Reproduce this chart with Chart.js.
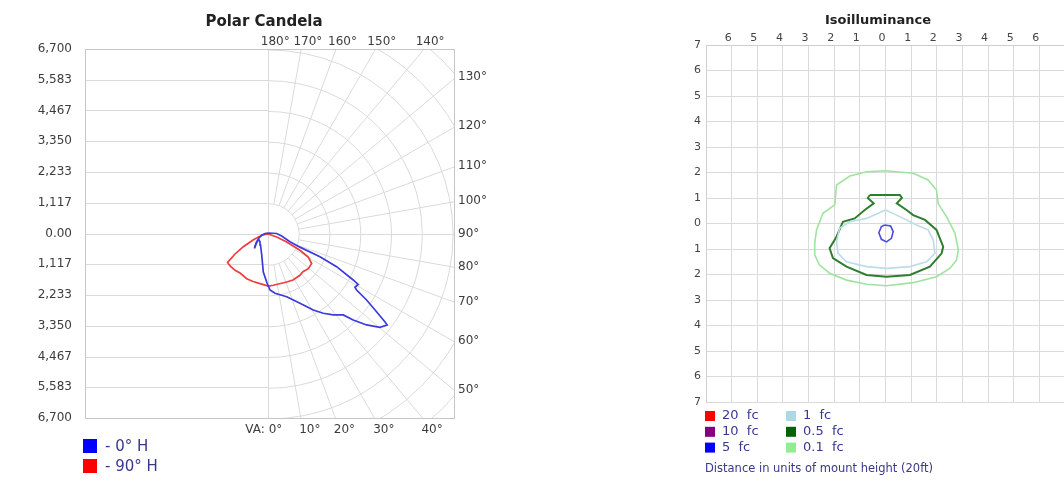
<!DOCTYPE html>
<html>
<head>
<meta charset="utf-8">
<title>Polar Candela / Isoilluminance</title>
<script src="https://cdn.jsdelivr.net/npm/chart.js@4.4.1/dist/chart.umd.min.js"></script>
<style>
  html, body { margin: 0; padding: 0; background: #fff; overflow: hidden; width: 1064px; height: 490px; }
  #polarBox { position: absolute; left: 0; top: 0; width: 528px; height: 490px; }
  #isoBox { position: absolute; left: 650px; top: 0; width: 456px; height: 490px; }
</style>
</head>
<body>
<div id="polarBox"><canvas id="polarChart"></canvas></div>
<div id="isoBox"><canvas id="isoChart"></canvas></div>
<script>
Chart.defaults.font.family = "'DejaVu Sans', sans-serif";
Chart.defaults.animation = false;

// ---- Polar candela data (x/y in candela, centre = lamp) ----
const candelaTicks = [-6700, -5583, -4467, -3350, -2233, -1117, 0, 1117, 2233, 3350, 4467, 5583, 6700];
const candelaTickLabels = ['6,700', '5,583', '4,467', '3,350', '2,233', '1,117', '0.00',
                           '1,117', '2,233', '3,350', '4,467', '5,583', '6,700'];
const angleValues = [180, 170, 160, 150, 140, 130, 120, 110, 100, 90, 80, 70, 60, 50, 40, 30, 20, 10, 0];
const angleLabels = ['180°', '170°', '160°', '150°', '140°', '130°', '120°', '110°', '100°', '90°',
                     '80°', '70°', '60°', '50°', '40°', '30°', '20°', '10°', 'VA: 0°'];
const seriesNames = ['- 0° H', '- 90° H'];
const seriesColors = ['#3a3ade', '#ef3c3c'];
const seriesKeyColors = ['#0000ff', '#ff0000'];

const curve0H = [[0, 18], [307, 0], [489, -91], [792, -298], [1157, -495], [1887, -842], [2497, -1205],
  [3103, -1688], [3285, -1851], [3165, -1953], [3227, -2051], [3592, -2414], [3957, -2839],
  [4260, -3202], [4344, -3321], [4077, -3405], [3592, -3321], [3103, -3140], [2738, -2958],
  [2373, -2958], [2008, -2897], [1643, -2777], [1157, -2534], [672, -2294], [245, -2171],
  [62, -2051], [-47, -1797], [-183, -1398], [-241, -780], [-285, -417], [-303, -309],
  [-358, -200], [-431, -309], [-485, -454], [-504, -545], [-431, -345], [-340, -163],
  [-230, -54], [-120, 0]];
const curve90H = [[0, -18], [-241, -65], [-558, -236], [-913, -479], [-1215, -744], [-1490, -1050],
  [-1398, -1180], [-1215, -1336], [-1033, -1434], [-788, -1641], [-558, -1742], [-303, -1822],
  [0, -1910], [183, -1880], [672, -1761], [902, -1688], [1157, -1517], [1267, -1387],
  [1460, -1278], [1584, -1089], [1460, -853], [1157, -610], [672, -309], [307, -127]];

// ---- Isoilluminance data (units of mount height) ----
const isoXLabels = ['', '6', '5', '4', '3', '2', '1', '0', '1', '2', '3', '4', '5', '6', ''];
const isoYLabels = ['7', '6', '5', '4', '3', '2', '1', '0', '1', '2', '3', '4', '5', '6', '7'];
const isoLevels = ['20  fc', '10  fc', '5  fc', '1  fc', '0.5  fc', '0.1  fc'];
const isoColors = ['#ff0000', '#800080', '#0000ff', '#add8e6', '#006400', '#90ee90'];
const isoLineColors = ['#ff0000', '#800080', '#4a4ae0', '#bcdcea', '#2f7d2f', '#9fe39f'];

const iso5fc = [[-0.03, -0.06], [0.20, -0.10], [0.30, -0.32], [0.23, -0.58], [0.04, -0.72],
  [-0.16, -0.62], [-0.26, -0.36], [-0.16, -0.12]];
const iso1fc = [[0, 0.53], [0.56, 0.27], [1.21, -0.06], [1.66, -0.25], [1.86, -0.65], [1.93, -1.17],
  [1.60, -1.50], [0.95, -1.69], [0.04, -1.76], [-0.74, -1.69], [-1.52, -1.50], [-1.85, -1.17],
  [-1.91, -0.71], [-1.79, -0.19], [-1.39, 0.07], [-0.74, 0.20]];
const iso05fc = [[-0.61, 1.12], [0.56, 1.12], [0.64, 1.0], [0.44, 0.79], [0.82, 0.53], [1.08, 0.33],
  [1.54, 0.14], [1.99, -0.25], [2.25, -0.91], [2.19, -1.17], [1.73, -1.69], [0.95, -2.02],
  [0.04, -2.09], [-0.74, -2.02], [-1.52, -1.69], [-2.05, -1.36], [-2.18, -0.97], [-1.91, -0.52],
  [-1.66, 0.07], [-1.20, 0.20], [-0.81, 0.53], [-0.46, 0.79], [-0.69, 1.0]];
const iso01fc = [[0, 2.07], [1.08, 1.97], [1.66, 1.71], [1.99, 1.31], [2.05, 0.79], [2.38, 0.27],
  [2.71, -0.38], [2.84, -1.04], [2.77, -1.43], [2.51, -1.76], [1.99, -2.09], [1.08, -2.32],
  [0.04, -2.44], [-0.74, -2.38], [-1.52, -2.22], [-2.18, -1.95], [-2.57, -1.63], [-2.76, -1.24],
  [-2.76, -0.78], [-2.69, -0.25], [-2.44, 0.40], [-1.98, 0.73], [-1.91, 1.51], [-1.39, 1.86],
  [-0.74, 2.03]];

const gridColor = '#dadada';
const borderColor = '#c6c6c6';
const keyTextColor = '#38388c';

// closed outline -> scatter points
const toPts = arr => arr.concat([arr[0]]).map(p => ({ x: p[0], y: p[1] }));

// polar grid: horizontal lines on the left, half rings + radial lines on the right
const polarGrid = {
  id: 'polarGrid',
  beforeDatasetsDraw(chart) {
    const { ctx, chartArea: a, scales: { x, y } } = chart;
    const cx = Math.round(x.getPixelForValue(0)) + 0.5;
    const cy = Math.round(y.getPixelForValue(0)) + 0.5;
    const step = y.getPixelForValue(0) - y.getPixelForValue(candelaTicks[7]);
    ctx.save();
    ctx.beginPath();
    ctx.rect(a.left, a.top, a.right - a.left, a.bottom - a.top);
    ctx.clip();
    ctx.strokeStyle = gridColor;
    ctx.lineWidth = 1;
    ctx.beginPath();
    candelaTicks.forEach(v => {
      const py = Math.round(y.getPixelForValue(v)) + 0.5;
      ctx.moveTo(a.left, py);
      ctx.lineTo(cx, py);
    });
    ctx.moveTo(cx, a.top);
    ctx.lineTo(cx, a.bottom);
    ctx.stroke();
    for (let n = 1; n <= 10; n++) {
      ctx.beginPath();
      ctx.arc(cx, cy, n * step, -Math.PI / 2, Math.PI / 2);
      ctx.stroke();
    }
    ctx.beginPath();
    for (let deg = 10; deg < 180; deg += 10) {
      const t = deg * Math.PI / 180;
      ctx.moveTo(cx + step * Math.sin(t), cy + step * Math.cos(t));
      ctx.lineTo(cx + 600 * Math.sin(t), cy + 600 * Math.cos(t));
    }
    ctx.stroke();
    ctx.restore();
    ctx.save();
    ctx.strokeStyle = borderColor;
    ctx.strokeRect(Math.round(a.left) + 0.5, Math.round(a.top) + 0.5,
      Math.round(a.right - a.left) - 1, Math.round(a.bottom - a.top));
    ctx.restore();
  }
};

// angle labels where each radial line meets the frame, plus the series key
const polarText = {
  id: 'polarText',
  afterDraw(chart) {
    const { ctx, chartArea: a, scales: { x, y } } = chart;
    const cx = x.getPixelForValue(0), cy = y.getPixelForValue(0);
    ctx.save();
    ctx.font = "12px 'DejaVu Sans'";
    ctx.fillStyle = '#3c3c3c';
    ctx.textBaseline = 'middle';
    angleValues.forEach((deg, i) => {
      const t = deg * Math.PI / 180;
      const dx = Math.sin(t), dy = Math.cos(t);
      const hits = [];
      if (dy < -1e-6) hits.push((a.top - cy) / dy);
      if (dy > 1e-6) hits.push((a.bottom - cy) / dy);
      if (dx > 1e-6) hits.push((a.right - cx) / dx);
      const r = Math.min(...hits);
      const px = cx + r * dx, py = cy + r * dy;
      if (py <= a.top + 0.5) {
        ctx.textAlign = 'center';
        ctx.fillText(angleLabels[i], px + 7, a.top - 7);
      } else if (py >= a.bottom - 0.5) {
        if (deg === 0) {
          ctx.textAlign = 'right';
          ctx.fillText(angleLabels[i], px + 14, a.bottom + 12);
        } else {
          ctx.textAlign = 'center';
          ctx.fillText(angleLabels[i], px + 9, a.bottom + 12);
        }
      } else {
        ctx.textAlign = 'left';
        ctx.fillText(angleLabels[i], a.right + 3, py);
      }
    });
    ctx.font = "15px 'DejaVu Sans'";
    ctx.textAlign = 'left';
    seriesNames.forEach((name, i) => {
      const top = a.bottom + 21 + i * 20;
      ctx.fillStyle = seriesKeyColors[i];
      ctx.fillRect(a.left - 2, top, 14, 14);
      ctx.fillStyle = keyTextColor;
      ctx.fillText(name, a.left + 20, top + 8);
    });
    ctx.restore();
  }
};

new Chart(document.getElementById('polarChart'), {
  type: 'scatter',
  data: {
    datasets: [
      { label: seriesNames[0], data: toPts(curve0H), borderColor: seriesColors[0], borderWidth: 1.7,
        showLine: true, pointRadius: 0, tension: 0 },
      { label: seriesNames[1], data: toPts(curve90H), borderColor: seriesColors[1], borderWidth: 1.7,
        showLine: true, pointRadius: 0, tension: 0 }
    ]
  },
  options: {
    responsive: true,
    maintainAspectRatio: false,
    events: [],
    layout: { padding: { left: 0, right: 0, top: 0, bottom: 72 } },
    plugins: {
      legend: { display: false },
      tooltip: { enabled: false },
      title: {
        display: true, text: 'Polar Candela', color: '#222',
        font: { size: 15, weight: 'bold' }, padding: { top: 13, bottom: 18 }
      }
    },
    scales: {
      x: { type: 'linear', display: false, min: -6700, max: 6824 },
      y: {
        type: 'linear', min: -6700, max: 6700,
        grid: { display: false }, border: { display: false },
        afterBuildTicks: s => { s.ticks = candelaTicks.map(v => ({ value: v })); },
        afterFit: s => { s.width = 85; },
        ticks: { callback: (v, i) => candelaTickLabels[i], color: '#3c3c3c', font: { size: 12 }, padding: 5 }
      },
      yRight: {
        axis: 'y', position: 'right', display: true,
        grid: { display: false }, border: { display: false }, ticks: { display: false },
        afterFit: s => { s.width = 73; }
      }
    }
  },
  plugins: [polarGrid, polarText]
});

// iso key + caption
const isoText = {
  id: 'isoText',
  afterDraw(chart) {
    const { ctx, chartArea: a } = chart;
    ctx.save();
    ctx.font = "13px 'DejaVu Sans'";
    ctx.textBaseline = 'middle';
    ctx.textAlign = 'left';
    isoLevels.forEach((name, i) => {
      const col = Math.floor(i / 3), row = i % 3;
      const left = a.left - 1 + col * 81;
      const mid = a.bottom + 14 + row * 15.8;
      ctx.fillStyle = isoColors[i];
      ctx.fillRect(left, mid - 5, 10, 10);
      ctx.fillStyle = keyTextColor;
      ctx.fillText(name, left + 17, mid);
    });
    ctx.font = "11.5px 'DejaVu Sans'";
    ctx.fillText('Distance in units of mount height (20ft)', a.left - 1, a.bottom + 67);
    ctx.restore();
  }
};

const isoSeries = [iso01fc, iso1fc, iso05fc, iso5fc];
const isoSeriesColor = [isoLineColors[5], isoLineColors[3], isoLineColors[4], isoLineColors[2]];
const isoSeriesName = [isoLevels[5], isoLevels[3], isoLevels[4], isoLevels[2]];
const isoSeriesWidth = [1.6, 1.6, 2, 1.6];

new Chart(document.getElementById('isoChart'), {
  type: 'scatter',
  data: {
    datasets: isoSeries.map((pts, i) => ({
      label: isoSeriesName[i], data: toPts(pts), borderColor: isoSeriesColor[i],
      borderWidth: isoSeriesWidth[i], showLine: true, pointRadius: 0, tension: 0
    }))
  },
  options: {
    responsive: true,
    maintainAspectRatio: false,
    events: [],
    layout: { padding: { left: 0, right: 0, top: 0, bottom: 88 } },
    plugins: {
      legend: { display: false },
      tooltip: { enabled: false },
      title: {
        display: true, text: 'Isoilluminance', color: '#222',
        font: { size: 13, weight: 'bold' }, padding: { top: 13, bottom: 0 }
      }
    },
    scales: {
      x: {
        type: 'linear', position: 'top', min: -7, max: 7,
        grid: { color: gridColor, drawTicks: false }, border: { color: '#cfcfcf' },
        afterFit: s => { s.height = 16.4; },
        ticks: {
          stepSize: 1, autoSkip: false, maxRotation: 0, align: 'end', padding: 0,
          color: '#444', font: { size: 11 }, callback: (v, i) => isoXLabels[i]
        }
      },
      y: {
        type: 'linear', min: -7, max: 7,
        grid: { color: gridColor, drawTicks: false }, border: { color: '#cfcfcf' },
        afterFit: s => { s.width = 56; },
        ticks: { stepSize: 1, autoSkip: false, padding: 5, color: '#444', font: { size: 11 },
          callback: (v, i) => isoYLabels[i] }
      },
      yRight: {
        axis: 'y', position: 'right', display: true,
        grid: { display: false }, border: { display: false }, ticks: { display: false },
        afterFit: s => { s.width = 41; }
      }
    }
  },
  plugins: [isoText]
});
</script>
</body>
</html>
